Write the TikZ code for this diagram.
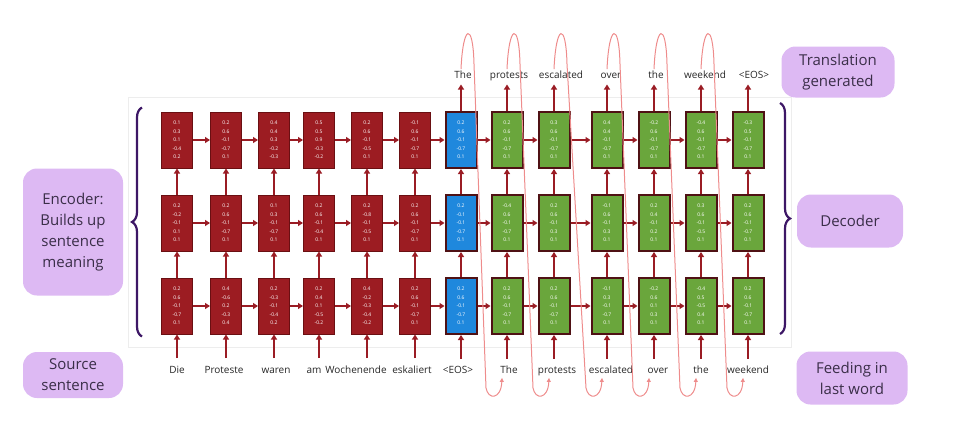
\documentclass[tikz,border=0pt]{standalone}
\usepackage{fontspec}
\setmainfont{Open Sans}
\usepackage{tikz}
\usetikzlibrary{positioning,calc,arrows.meta,decorations.pathreplacing}
\definecolor{EncRed}{HTML}{9C1C22}
\definecolor{EncEdge}{HTML}{6A0F12}
\definecolor{EosBlue}{HTML}{1F88DD}
\definecolor{DecGreen}{HTML}{6AA63C}
\definecolor{CellEdge}{HTML}{4F1114}
\definecolor{ArrowRed}{HTML}{9A1C24}
\definecolor{LoopPink}{HTML}{EE8C8C}
\definecolor{TagLilac}{HTML}{DDB9F3}
\definecolor{TagText}{HTML}{3A2E48}
\definecolor{BracePurple}{HTML}{3D1766}

\begin{document}
\begin{tikzpicture}[
      x=1pt, y=-1pt,
      cell/.style={align=center, minimum width=31pt, minimum height=56pt, inner sep=0pt, text=white, font=\fontsize{5}{8.4}\selectfont},
      encbox/.style={cell, fill=EncRed, draw=EncEdge, line width=1pt},
      eosbox/.style={cell, fill=EosBlue, draw=CellEdge, line width=2pt},
      decbox/.style={cell, fill=DecGreen, draw=CellEdge, line width=2pt},
      word/.style={font=\fontsize{10}{12}\selectfont, text=black!85, text height=7.5pt, text depth=2.5pt, inner sep=1.5pt},
      tag/.style={align=center, fill=TagLilac, rounded corners=14pt, text=TagText, font=\fontsize{15}{21}\selectfont, inner sep=4pt},
      arrow/.style={ArrowRed, line width=1.8pt, -{Triangle[length=5pt,width=6pt]}},
      feedback/.style={LoopPink, line width=1pt, -{Triangle[length=4pt,width=4pt]}},
      brace/.style={BracePurple, line width=2.2pt, decorate, decoration={brace, amplitude=10pt}}
    ]
      \useasboundingbox (0,0) rectangle (962,434);
      \draw[black!7, line width=0.8pt] (128,97) rectangle (791,347);
      % Encoder cells
      \foreach \col/\x/\hi/\mi/\lo in {
          1/177/{0.1\\0.3\\0.1\\-0.4\\0.2}/{0.2\\-0.2\\-0.1\\0.1\\0.1}/{0.2\\0.6\\-0.1\\-0.7\\0.1},
          2/226/{0.2\\0.6\\-0.1\\-0.7\\0.1}/{0.2\\0.6\\-0.1\\-0.7\\0.1}/{0.4\\-0.6\\0.2\\-0.3\\0.4},
          3/274/{0.4\\0.4\\0.3\\-0.2\\-0.3}/{0.1\\0.3\\-0.1\\-0.7\\0.1}/{0.2\\-0.3\\-0.1\\-0.4\\0.2},
          4/319/{0.5\\0.5\\0.9\\-0.3\\-0.2}/{0.2\\0.6\\-0.1\\-0.4\\0.1}/{0.2\\0.4\\0.1\\-0.5\\-0.2},
          5/367/{0.2\\0.6\\-0.1\\-0.5\\0.1}/{0.2\\-0.8\\-0.1\\-0.5\\0.1}/{0.4\\-0.2\\-0.3\\-0.4\\-0.2},
          6/415/{-0.1\\0.6\\-0.1\\-0.7\\0.1}/{0.2\\0.6\\-0.1\\-0.7\\0.1}/{0.2\\0.6\\-0.1\\-0.7\\0.1}}{
        \node[encbox] (top\col) at (\x,140) {\hi};
        \node[encbox] (mid\col) at (\x,223) {\mi};
        \node[encbox] (bot\col) at (\x,306) {\lo};
      }
      % <EOS> column
      \node[eosbox] (top7) at (461,140) {0.2\\0.6\\-0.1\\-0.7\\0.1};
      \node[eosbox] (mid7) at (461,223) {0.2\\-0.1\\-0.1\\-0.7\\0.1};
      \node[eosbox] (bot7) at (461,306) {0.2\\0.6\\-0.1\\-0.7\\0.1};
      % Decoder cells
      \foreach \col/\x/\hi/\mi/\lo in {
          8/507/{0.2\\0.6\\-0.1\\-0.7\\0.1}/{-0.4\\0.6\\-0.1\\-0.7\\0.1}/{0.2\\0.6\\-0.1\\-0.7\\0.1},
          9/554/{0.3\\0.6\\-0.1\\-0.7\\0.1}/{0.2\\0.6\\-0.1\\0.3\\0.1}/{0.2\\0.6\\-0.1\\-0.7\\0.1},
          10/607/{0.4\\0.4\\-0.1\\-0.7\\0.1}/{-0.1\\0.6\\-0.1\\0.3\\0.1}/{-0.1\\0.3\\-0.1\\-0.7\\0.1},
          11/654/{-0.2\\0.6\\-0.1\\-0.7\\0.1}/{0.2\\0.4\\-0.1\\0.2\\0.1}/{-0.2\\0.6\\0.1\\0.3\\0.1},
          12/701/{-0.4\\0.6\\-0.1\\-0.7\\0.1}/{0.3\\0.6\\-0.1\\-0.5\\0.1}/{-0.4\\0.5\\-0.5\\0.4\\0.1},
          13/748/{-0.3\\0.5\\-0.1\\-0.7\\0.1}/{0.2\\0.6\\-0.1\\-0.7\\0.1}/{0.2\\0.6\\-0.1\\-0.7\\0.1}}{
        \node[decbox] (top\col) at (\x,140) {\hi};
        \node[decbox] (mid\col) at (\x,223) {\mi};
        \node[decbox] (bot\col) at (\x,306) {\lo};
      }
      % Words fed in and words produced
      \foreach \col/\w/\dx in {1/Die/0, 2/Proteste/-2, 3/waren/2, 4/am/-5, 5/Wochenende/-11, 6/eskaliert/-3, 7/{<EOS>}/-3,
          8/The/2, 9/protests/3, 10/escalated/4, 11/over/4, 12/the/0, 13/weekend/0}
        \node[word, below=29.5pt of bot\col, xshift=\dx] (in\col) {\w};
      \foreach \col/\w/\dx in {7/The/2, 8/protests/2, 9/escalated/7, 10/over/4, 11/the/2, 12/weekend/4, 13/{<EOS>}/6}
        \node[word, above=28.5pt of top\col, xshift=\dx] (out\col) {\w};
      % Arrows
      \foreach \col in {1,...,12}{
        \pgfmathtruncatemacro\nxt{\col+1}
        \draw[arrow] (top\col) -- (top\nxt);
        \draw[arrow] (mid\col) -- (mid\nxt);
        \draw[arrow] (bot\col) -- (bot\nxt);
      }
      \foreach \col in {1,...,13}{
        \draw[arrow] (bot\col) -- (mid\col);
        \draw[arrow] (mid\col) -- (top\col);
        \draw[arrow, shorten <=6pt] (bot\col.south |- in\col.north) -- (bot\col);
      }
      \foreach \col in {7,...,13}
        \draw[arrow, shorten >=2pt] (top\col) -- (top\col.north |- out\col.south);
      % Braces and labels
      \draw[brace] ([xshift=-19pt,yshift=-2pt]bot1.south west) -- ([xshift=-19pt,yshift=4pt]top1.north west);
      \draw[brace] ([xshift=15.5pt,yshift=8pt]top13.north east) -- ([xshift=15.5pt,yshift=1pt]bot13.south east);
      \node[tag, minimum width=100pt, minimum height=127pt] (enctag) at (73,232) {Encoder:\\Builds up\\sentence\\meaning};
      \node[tag, minimum width=100pt, minimum height=46pt] (srctag) at (73,375) {Source\\sentence};
      \node[tag, minimum width=113pt, minimum height=51pt] (outtag) at (838,72) {Translation\\generated};
      \node[tag, minimum width=106pt, minimum height=53pt] (dectag) at (850,221) {Decoder};
      \node[tag, minimum width=111pt, minimum height=53pt] (feedtag) at (852,378) {Feeding in\\last word};
      % Feeding the last word back in
      \foreach \col in {7,...,12}{
        \pgfmathtruncatemacro\nxt{\col+1}
        \coordinate (s) at (top\col.north |- out\col.north);
        \coordinate (e) at ([xshift=-5pt]bot\nxt.south |- in\nxt.south);
        \draw[feedback] (s) .. controls ($(s)+(2,-45)$) and ($(s)+(12,-48)$) .. ($(s)+(13,-5)$)
          -- ($(e)+(-16,10)$) .. controls ($(e)+(-14,22)$) and ($(e)+(-1,22)$) .. (e);
      }
    \end{tikzpicture}
\end{document}
